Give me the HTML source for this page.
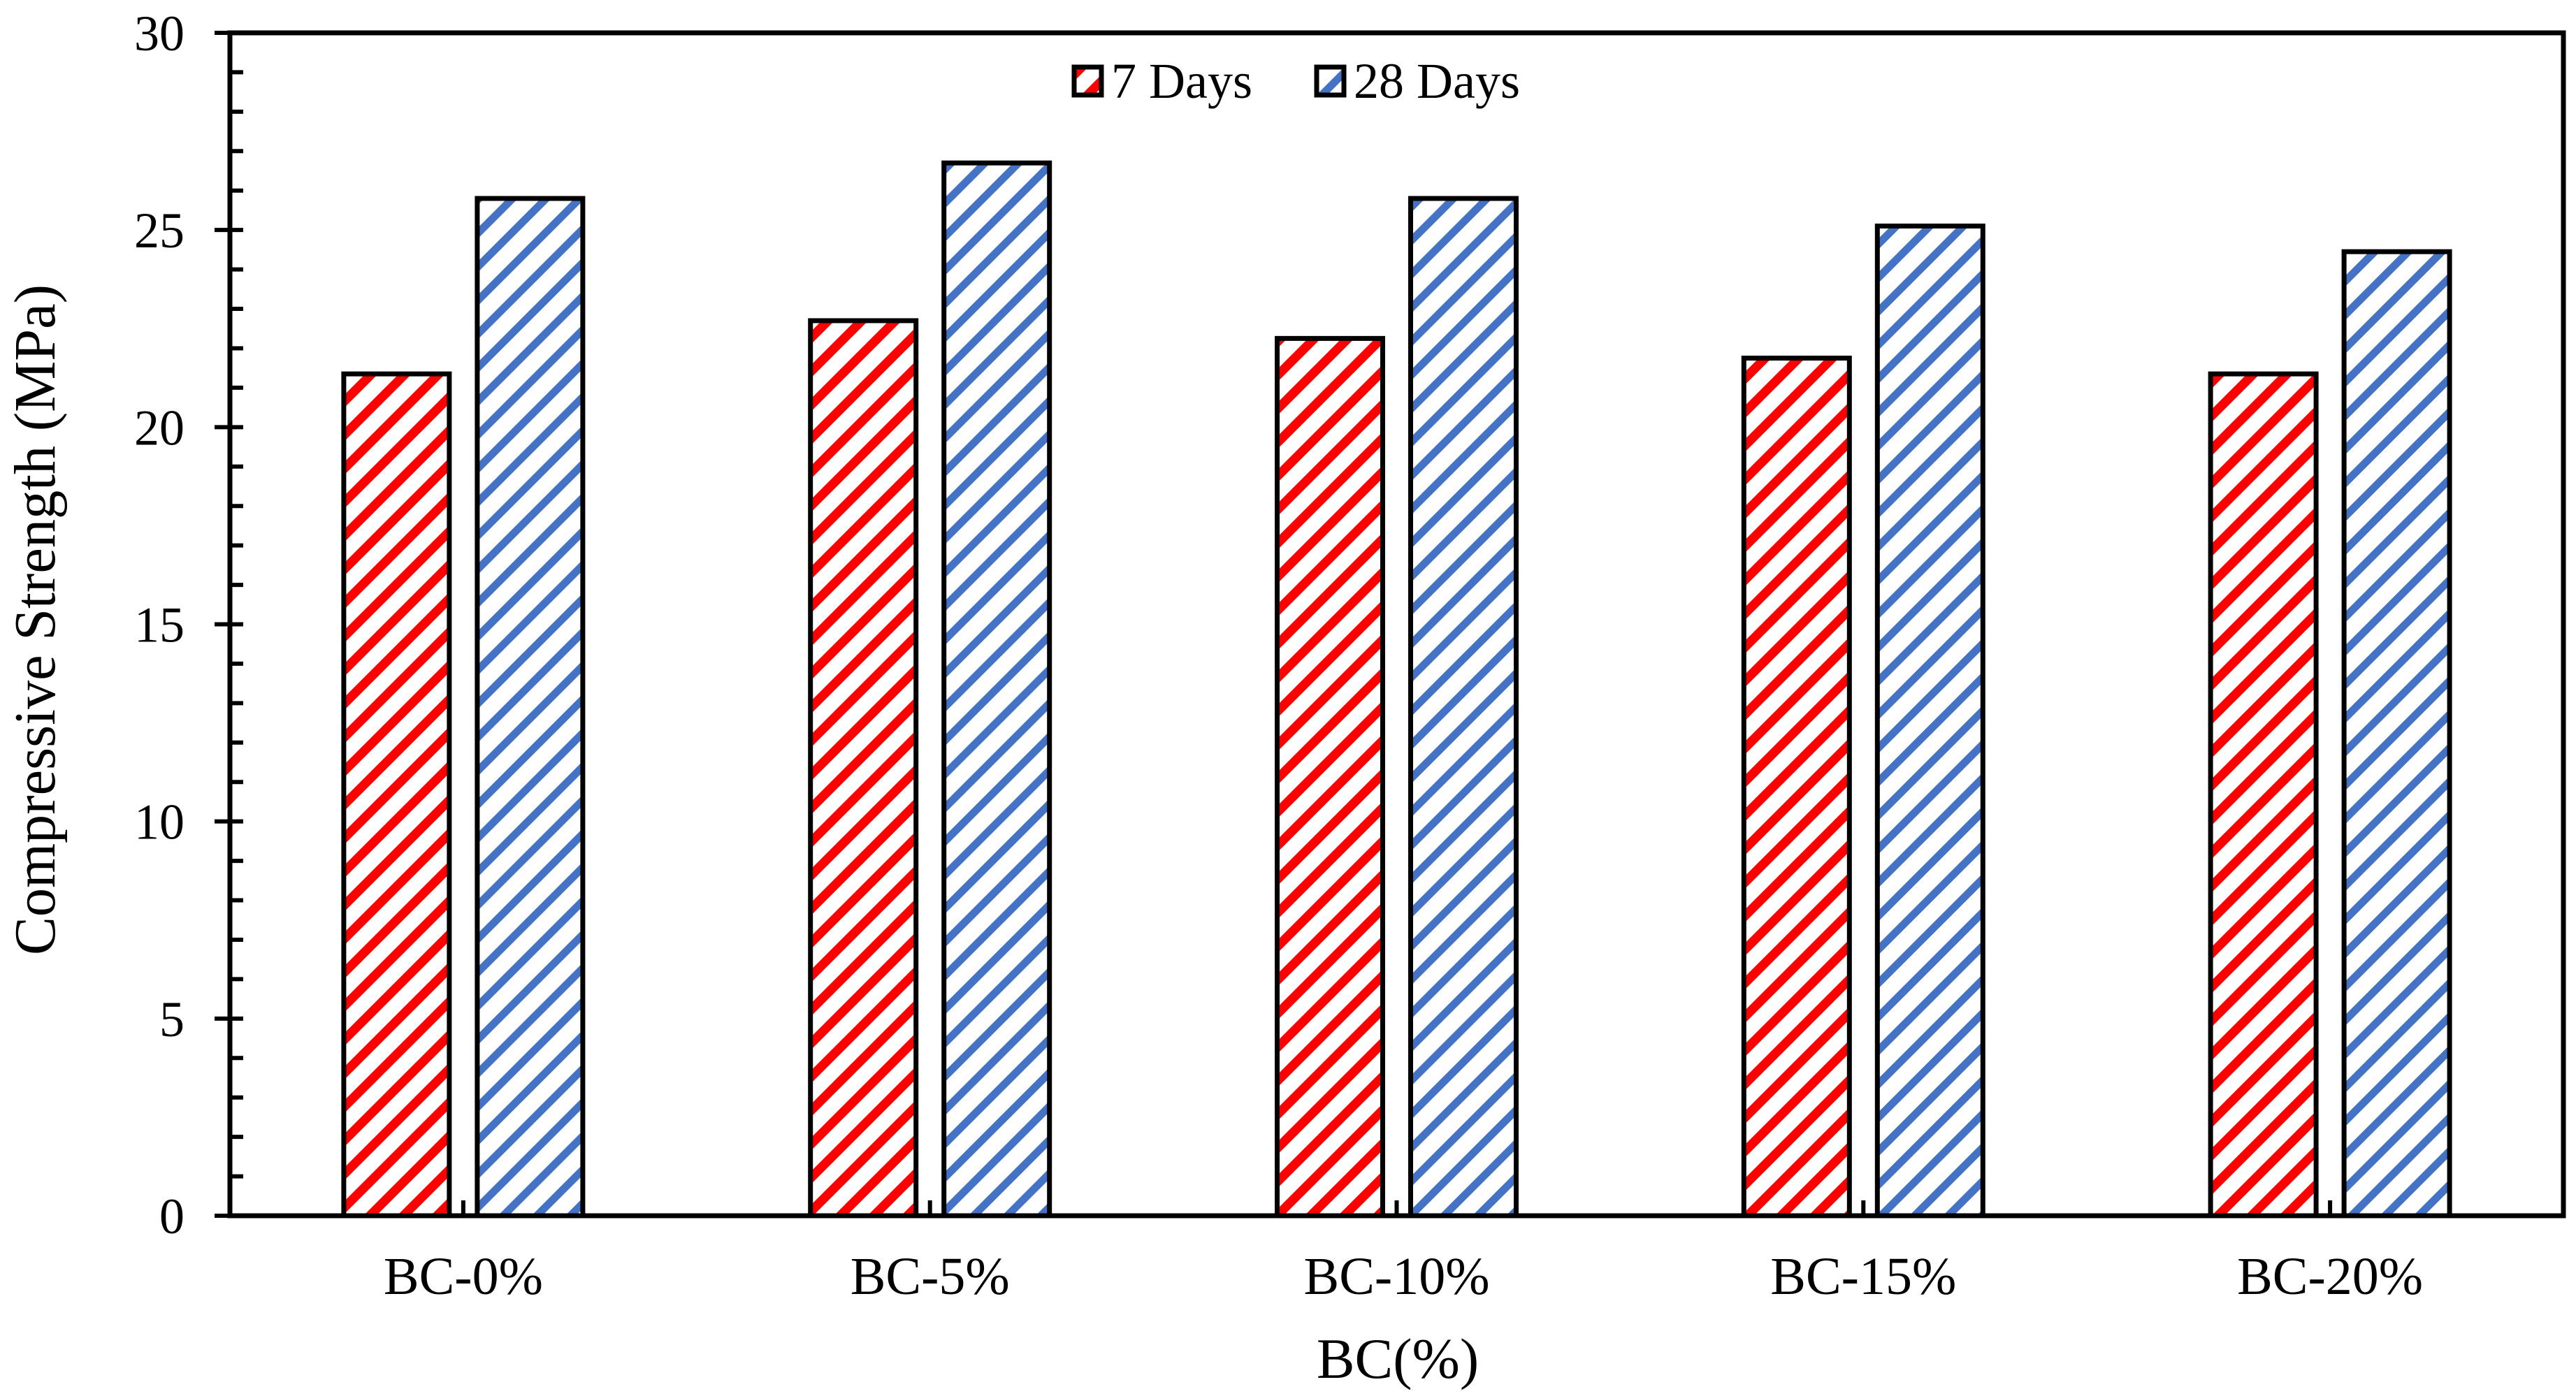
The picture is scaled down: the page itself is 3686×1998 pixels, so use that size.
<!DOCTYPE html>
<html><head><meta charset="utf-8"><style>
html,body{margin:0;padding:0;background:#fff;}
svg{display:block;font-family:"Liberation Serif",serif;}
</style></head><body>
<svg id="chart" width="3686" height="1998" viewBox="0 0 3686 1998" xmlns="http://www.w3.org/2000/svg">
<defs>
<pattern id="hatch-red" patternUnits="userSpaceOnUse" width="34" height="34" patternTransform="rotate(-45)">
<rect x="0" y="0" width="34" height="34" fill="#fff"/><rect x="0" y="0" width="34" height="13" fill="#ff0000"/>
</pattern>
<pattern id="hatch-blue" patternUnits="userSpaceOnUse" width="34" height="34" patternTransform="rotate(-45)">
<rect x="0" y="0" width="34" height="34" fill="#fff"/><rect x="0" y="0" width="34" height="11" fill="#4472c4"/>
</pattern>
</defs>
<g id="bars"></g>
<g id="axes"></g>
<g id="legend">
<rect x="1537" y="96" width="39" height="40" fill="url(#hatch-red)" stroke="#000" stroke-width="7"/>
<text x="1590" y="140" font-size="72">7 Days</text>
<rect x="1884" y="96" width="39" height="40" fill="url(#hatch-blue)" stroke="#000" stroke-width="7"/>
<text x="1937" y="140" font-size="72">28 Days</text>
</g>
<text x="2000" y="1972" font-size="82" text-anchor="middle">BC(%)</text>
<text transform="translate(78,887) rotate(-90)" font-size="84" text-anchor="middle" textLength="960" lengthAdjust="spacingAndGlyphs">Compressive Strength (MPa)</text>
</svg>
<script>
const categories = ["BC-0%","BC-5%","BC-10%","BC-15%","BC-20%"];
const days7 = [21.35, 22.7, 22.25, 21.75, 21.35];
const days28 = [25.8, 26.7, 25.8, 25.1, 24.45];
const yTicks = [0,5,10,15,20,25,30];

const NS = "http://www.w3.org/2000/svg";
const L = 329, R = 3668, T = 47, B = 1740, yMax = 30;
const y = v => B - (v / yMax) * (B - T);
const catW = (R - L) / categories.length;
const xc = i => L + catW * (i + 0.5);
function mk(tag, attrs, parent) {
  const e = document.createElementNS(NS, tag);
  for (const k in attrs) e.setAttribute(k, attrs[k]);
  parent.appendChild(e);
  return e;
}
const bars = document.getElementById('bars');
const axes = document.getElementById('axes');
categories.forEach((c, i) => {
  const cx = xc(i);
  const r1 = mk('rect', {x: cx - 171, y: y(days7[i]), width: 151, height: B - y(days7[i]), fill: 'url(#hatch-red)', stroke: '#000', 'stroke-width': 7}, bars);
  
  
  const r2 = mk('rect', {x: cx + 20, y: y(days28[i]), width: 151, height: B - y(days28[i]), fill: 'url(#hatch-blue)', stroke: '#000', 'stroke-width': 7}, bars);
  
  
  const t = mk('line', {x1: cx, x2: cx, y1: B, y2: B - 22, stroke: '#000', 'stroke-width': 6}, axes);
  
  
  const lb = mk('text', {x: cx, y: 1852, 'font-size': 76, 'text-anchor': 'middle'}, axes);
  lb.textContent = c;
  
  
});
for (let v = 0; v <= yMax; v++) {
  const major = v % 5 === 0;
  const tk = mk('line', {x1: major ? L - 22 : L, x2: L + 19, y1: y(v), y2: y(v), stroke: '#000', 'stroke-width': 6}, axes);
  
  
}
yTicks.forEach(v => {
  const tl = mk('text', {x: 264, y: y(v) + 25, 'font-size': 72, 'text-anchor': 'end'}, axes);
  tl.textContent = v;
  
  
});
const frame = mk('rect', {x: L, y: T, width: R - L, height: B - T, fill: 'none', stroke: '#000', 'stroke-width': 7}, axes);


</script>
</body></html>
